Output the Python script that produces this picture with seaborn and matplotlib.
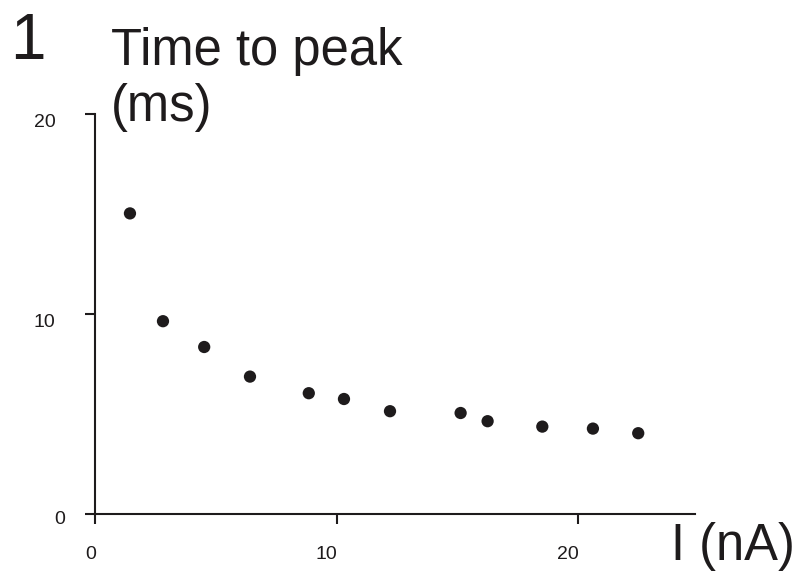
import matplotlib
matplotlib.use("Agg")
import matplotlib.pyplot as plt
import matplotlib.transforms as mtransforms
import seaborn as sns
import pandas as pd

# Data
current_nA = [1.43, 2.80, 4.51, 6.41, 8.85, 10.31, 12.22, 15.15, 16.27, 18.54, 20.64, 22.52]
time_to_peak_ms = [15.03, 9.64, 8.35, 6.87, 6.04, 5.75, 5.14, 5.05, 4.64, 4.37, 4.27, 4.04]
x_ticks = [0, 10, 20]
y_ticks = [0, 10, 20]
panel_label = "1"
y_title_lines = ["Time to peak", "(ms)"]
x_title = "I (nA)"

INK = "#1e1b1c"

sns.set_theme(style="white")
plt.rcParams["font.family"] = ["Liberation Sans", "DejaVu Sans"]

df = pd.DataFrame({"I": current_nA, "T": time_to_peak_ms})

W, H = 804, 573
fig = plt.figure(figsize=(W / 100, H / 100), dpi=100)
fig.patch.set_facecolor("white")

ax_left, ax_right, ax_bottom, ax_top = 95.5, 695, 514, 114
ax = fig.add_axes([ax_left / W, (H - ax_bottom) / H,
                   (ax_right - ax_left) / W, (ax_bottom - ax_top) / H])
ax.set_facecolor("white")

sns.scatterplot(data=df, x="I", y="T", ax=ax, color=INK, s=78,
                edgecolor="none", linewidth=0, clip_on=False, zorder=3)

ax.set_xlim(0, (ax_right - ax_left) / 24.1)
ax.set_ylim(0, 20)
ax.set_xticks(x_ticks)
ax.set_yticks(y_ticks)
ax.set_xticklabels([str(v) for v in x_ticks])
ax.set_yticklabels([str(v) for v in y_ticks])
ax.set_xlabel("")
ax.set_ylabel("")

for side in ["top", "right"]:
    ax.spines[side].set_visible(False)
for side in ["left", "bottom"]:
    ax.spines[side].set_color(INK)
    ax.spines[side].set_linewidth(1.5)

ax.tick_params(axis="both", direction="out", length=7.2, width=1.5,
               color=INK, labelcolor=INK, labelsize=14)
ax.tick_params(axis="y", pad=21.6, left=True)
ax.tick_params(axis="x", pad=16, bottom=True)

for lbl in ax.get_xticklabels():
    lbl.set_horizontalalignment("right")
    lbl.set_transform(lbl.get_transform() +
                      mtransforms.ScaledTranslation(1 / 100, 0, fig.dpi_scale_trans))

for lbl in ax.get_yticklabels():
    dx, dy = 0.0, -6.5
    if lbl.get_text() == "0":
        dx, dy = 10.0, -3.5
    lbl.set_transform(lbl.get_transform() +
                      mtransforms.ScaledTranslation(dx / 100, dy / 100, fig.dpi_scale_trans))

# Panel number and axis titles (figure pixel coordinates)
def fx(px):
    return px / W

def fy(py):
    return (H - py) / H

fig.text(fx(10), fy(59), panel_label, fontsize=46, color=INK,
         ha="left", va="baseline")
fig.text(fx(111), fy(65), y_title_lines[0], fontsize=36.5, color=INK,
         ha="left", va="baseline")
fig.text(fx(111), fy(121), y_title_lines[1], fontsize=36.5, color=INK,
         ha="left", va="baseline")
fig.text(fx(671), fy(560), x_title, fontsize=36.5, color=INK,
         ha="left", va="baseline")

fig.savefig("out.png", dpi=100, facecolor="white")
